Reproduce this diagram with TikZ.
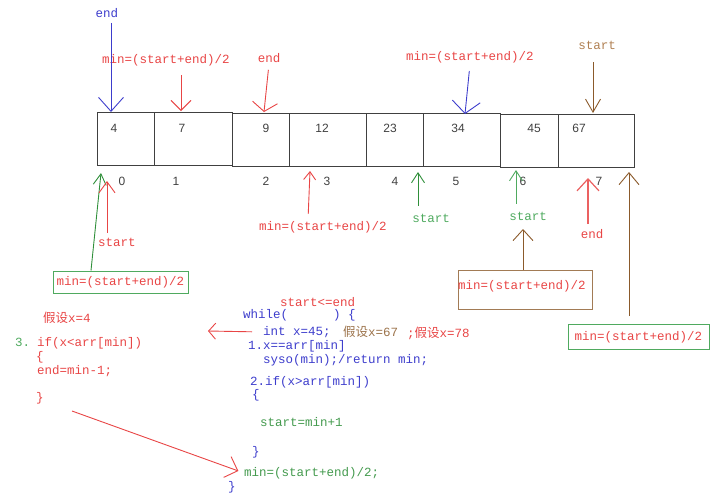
\documentclass[tikz,border=0pt]{standalone}
\usepackage{fontspec}
\setmainfont{Liberation Mono}
\newfontfamily\cjk{Noto Sans CJK SC}
\newfontfamily\cellfont{Liberation Sans}
\usetikzlibrary{arrows.meta,positioning,calc}
\definecolor{penred}{HTML}{E84545}
\definecolor{penblue}{HTML}{3D3DCC}
\definecolor{pengreen}{HTML}{2F8F3A}
\definecolor{lightgreen}{HTML}{4FAA5F}
\definecolor{penbrown}{HTML}{8B5A2B}
\definecolor{tanbrown}{HTML}{B08052}
\newcommand{\PenFont}{\fontsize{12.5pt}{14pt}\selectfont}
\newcommand{\CellFont}{\cellfont\fontsize{12pt}{14pt}\selectfont}
\newcommand{\MidText}{min=(start+end)/2}
\tikzset{
  search cell/.style={draw=black!75, line width=1.1pt, inner sep=0pt,
    minimum height=53pt, anchor=north west},
  cell value/.style={font=\CellFont, text=black!75, inner sep=0pt},
  pen label/.style={font=\PenFont, inner sep=1pt},
  pen arrow/.style={->, >={Straight Barb[length=10pt,width=20pt]},
    line width=0.9pt},
  pen box/.style={line width=1pt, font=\PenFont, text=penred, inner sep=2pt},
  code line/.style={anchor=west, inner sep=0pt, font=\PenFont}
}

\begin{document}
\begin{tikzpicture}[x=1pt,y=-1pt]
  \useasboundingbox (0,0) rectangle (718,496);
  % the sorted array, drawn as four slightly shifted pairs
  \foreach \cell/\xl/\xr/\yt/\val/\vx in {0/97/154/112/4/114, 1/154/232/112/7/182,
      2/232/289/113/9/266, 3/289/366/113/12/322, 4/366/423/113/23/390,
      5/423/500/113/34/458, 6/500/558/114/45/534, 7/558/634/114/67/579} {
    \node[search cell, minimum width={(\xr-\xl)*1pt}] (cell-\cell) at (\xl,\yt) {};
    \node[cell value] (value-\cell) at (\vx,128) {\val};
  }
  \foreach \idx/\ix in {0/122,1/176,2/266,3/327,4/395,5/456,6/523,7/599} {
    \node[cell value] (index-\idx) at (\ix,181) {\idx};
  }

  % pointers above the array
  \coordinate (tip-end-a) at (111,112);
  \coordinate (tip-mid-a) at (181,111);
  \coordinate (tip-end-b) at (264,112);
  \coordinate (tip-mid-c) at (465,114);
  \coordinate (tip-start-c) at (593,113);
  \node[pen label, text=penblue] (end-a) at (107,13) {end};
  \node[pen label, text=penred] (mid-a) at (166,60) {\MidText};
  \node[pen label, text=penred] (end-b) at (269,58) {end};
  \node[pen label, text=penred] (mid-c) at (470,57) {\MidText};
  \node[pen label, text=tanbrown] (start-c) at (597,45) {start};
  \draw[pen arrow, penblue, >={Straight Barb[length=14pt,width=25pt]}, shorten <=4pt]
    (end-a.south -| tip-end-a) -- (tip-end-a);
  \draw[pen arrow, penred, shorten <=8pt] (mid-a.south -| tip-mid-a) -- (tip-mid-a);
  \draw[pen arrow, penred, >={Straight Barb[length=9pt,width=25pt]}, shorten <=6pt]
    (end-b.south) -- (tip-end-b);
  \draw[pen arrow, penblue, >={Straight Barb[length=12pt,width=28pt]}, shorten <=7pt]
    (mid-c.south) -- (tip-mid-c);
  \draw[pen arrow, penbrown, >={Straight Barb[length=13pt,width=15pt]}, shorten <=12pt]
    (start-c.south -| tip-start-c) -- (tip-start-c);

  % pointers below the array
  \coordinate (tip-mid-a2) at (101,173);
  \coordinate (tip-start-a) at (107,181);
  \coordinate (tip-mid-b) at (310,171);
  \coordinate (tip-start-b) at (418,172);
  \coordinate (tip-start-d) at (516,170);
  \coordinate (tip-mid-d) at (523,229);
  \coordinate (tip-end-d) at (588,178);
  \coordinate (tip-mid-e) at (629,172);
  \node[pen box, draw=lightgreen, minimum width=135pt, minimum height=22pt]
    (box-a) at (120.5,282) {\MidText};
  \node[pen label, text=penred] (start-a) at (117,242) {start};
  \node[pen label, text=penred] (mid-b) at (323,227) {\MidText};
  \node[pen label, text=lightgreen] (start-b) at (431,218) {start};
  \node[pen label, text=lightgreen] (start-d) at (528,216) {start};
  \node[pen box, draw=penbrown!80, minimum width=134pt, minimum height=39pt]
    (box-d) at (525,289.5) {};
  \node[pen label, text=penred] (mid-d) at (522,286) {\MidText};
  \node[pen label, text=penred] (end-d) at (592,234) {end};
  \node[pen box, draw=lightgreen, minimum width=141pt, minimum height=25pt]
    (box-e) at (638.5,337) {\MidText};
  \draw[pen arrow, pengreen, >={Straight Barb[length=11pt,width=13pt]}]
    (box-a.north -| 91,0) -- (tip-mid-a2);
  \draw[pen arrow, penred, >={Straight Barb[length=11pt,width=16pt]}, shorten <=4pt]
    (start-a.north -| tip-start-a) -- (tip-start-a);
  \draw[pen arrow, penred, >={Straight Barb[length=8pt,width=12pt]}, shorten <=6pt]
    (mid-b.north -| 308,0) -- (tip-mid-b);
  \draw[pen arrow, pengreen, >={Straight Barb[length=10pt,width=13pt]}, shorten <=7pt]
    (start-b.north -| tip-start-b) -- (tip-start-b);
  \draw[pen arrow, lightgreen, >={Straight Barb[length=10pt,width=13pt]}, shorten <=7pt]
    (start-d.north -| tip-start-d) -- (tip-start-d);
  \draw[pen arrow, penbrown, >={Straight Barb[length=11pt,width=20pt]}]
    (box-d.north -| tip-mid-d) -- (tip-mid-d);
  \draw[pen arrow, penred!85, line width=1.2pt, >={Straight Barb[length=12pt,width=22pt]},
    shorten <=4pt] (end-d.north -| tip-end-d) -- (tip-end-d);
  \draw[pen arrow, penbrown, >={Straight Barb[length=12pt,width=20pt]}, shorten <=8pt]
    (box-e.north -| tip-mid-e) -- (tip-mid-e);

  % the search loop, as pseudo code
  \node[code line, text=penred] (guess-a) at (43,318) {{\cjk 假设}x=4};
  \node[code line, text=lightgreen] (step-3) at (15,342) {3.};
  \node[code line, text=penred] (code-if-less) at (37,343) {if(x<arr[min])};
  \node[code line, text=penred] (code-open-a) at (36,357) {\{};
  \node[code line, text=penred] (code-end) at (37,371) {end=min-1;};
  \node[code line, text=penred] (code-close-a) at (36,398) {\}};
  \node[code line, text=penred] (code-cond) at (280,302) {start<=end};
  \node[code line, text=penblue] (code-while) at (243,315) {while(};
  \node[code line, text=penblue] (code-brace) at (333,315) {) \{};
  \node[code line, text=penblue] (code-int) at (263,332) {int x=45;};
  \node[code line, text=penbrown!85] (guess-b) at (343,332) {{\cjk 假设}x=67};
  \node[code line, text=penred] (guess-c) at (407,333) {;{\cjk 假设}x=78};
  \node[code line, text=penblue] (step-1) at (248,346) {1.x==arr[min]};
  \node[code line, text=penblue] (code-syso) at (263,360) {syso(min);/return min;};
  \node[code line, text=penblue] (step-2) at (250,382) {2.if(x>arr[min])};
  \node[code line, text=penblue] (code-open-b) at (252,395) {\{};
  \node[code line, text=pengreen!90] (code-start) at (260,422) {start=min+1};
  \node[code line, text=penblue] (code-close-b) at (252,452) {\}};
  \node[code line, text=pengreen!90] (code-min) at (244,473) {min=(start+end)/2;};
  \node[code line, text=penblue] (code-close-c) at (228,487) {\}};
  \coordinate (tip-loop) at (208,331);
  \coordinate (tail-slant) at (72,411);
  \draw[pen arrow, penred, >={Straight Barb[length=7pt,width=16pt]}, shorten <=11pt]
    (code-int.west) -- (tip-loop);
  \draw[pen arrow, penred, >={Straight Barb[length=11pt,width=22pt]}, shorten >=6pt]
    (tail-slant) -- (code-min.west);
\end{tikzpicture}
\end{document}
